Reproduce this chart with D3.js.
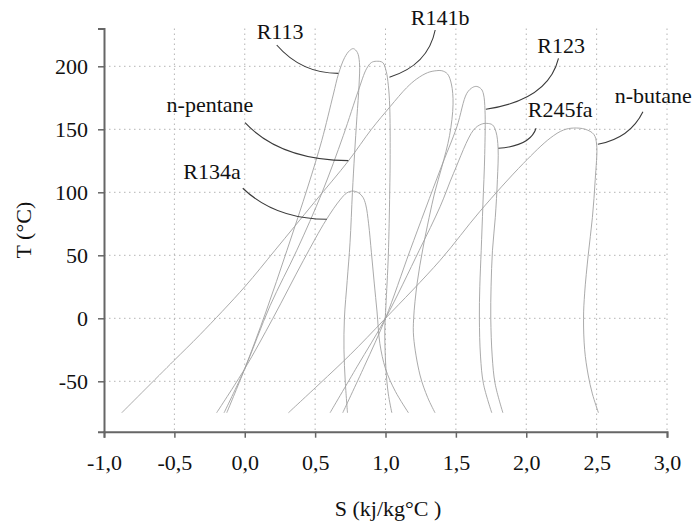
<!DOCTYPE html>
<html>
<head>
<meta charset="utf-8">
<script src="https://cdn.jsdelivr.net/npm/d3@7/dist/d3.min.js"></script>
<style>
  body { margin: 0; background: #fff; }
  svg text { font-family: "Liberation Serif", "Times New Roman", Times, "DejaVu Serif", serif !important; fill: #111; }
</style>
</head>
<body>
<div id="chart"></div>
<script>
// saturation domes, [S, T]; liquid side from bottom to top, vapour side from top to bottom
let r113_liq = [[-0.128,-75],[0,-40],[0.15,5],[0.30,54],[0.45,105],[0.547,141],[0.63,178],[0.666,194],[0.71,207],[0.745,212.5],[0.772,214]];
let r113_vap = [[0.80,211],[0.815,203],[0.812,185],[0.797,160],[0.78,130],[0.765,100],[0.748,60],[0.728,30],[0.708,0],[0.705,-25],[0.714,-50],[0.73,-75]];

let r141b_liq = [[-0.147,-75],[0,-40],[0.18,10],[0.37,54],[0.55,100],[0.70,145],[0.808,181],[0.865,198],[0.90,203],[0.935,204]];
let r141b_vap = [[0.98,203],[1.005,196],[1.02,185],[1.03,168],[1.033,130],[1.03,100],[1.02,50],[1.003,10],[0.995,-10],[1.003,-40],[1.02,-60],[1.045,-75]];

let r134a_liq = [[-0.2,-75],[0,-40],[0.2,0],[0.417,46],[0.578,78],[0.677,94],[0.725,99.5],[0.767,101]];
let r134a_vap = [[0.81,99.5],[0.84,96],[0.86,90],[0.88,75],[0.90,52],[0.92,28],[0.94,5],[0.96,-20],[1.0,-40],[1.07,-58],[1.163,-75]];

let pentane_liq = [[-0.874,-75],[-0.507,-34],[-0.318,-13],[0.0,25],[0.215,54],[0.494,92],[0.737,125],[0.9,150],[1.033,168],[1.15,183],[1.222,190],[1.30,195],[1.36,196.5],[1.40,196.5]];
let pentane_vap = [[1.44,194],[1.468,186],[1.48,170],[1.455,145],[1.40,120],[1.35,100],[1.31,80],[1.265,55],[1.225,28],[1.20,0],[1.20,-15],[1.245,-45],[1.30,-63],[1.352,-75]];

let r123_liq = [[0.696,-75],[0.85,-38],[1.0,0],[1.175,54],[1.388,117.7],[1.507,152],[1.578,178.6],[1.62,183.3],[1.649,184]];
let r123_vap = [[1.68,182],[1.696,178],[1.707,165],[1.705,130],[1.692,90],[1.68,54],[1.67,25],[1.667,0],[1.675,-30],[1.696,-52],[1.755,-75]];

let r245fa_liq = [[0.606,-75],[0.80,-38],[1.0,0],[1.24,54],[1.388,88.6],[1.483,115],[1.625,149.4],[1.68,154],[1.72,154.7]];
let r245fa_vap = [[1.76,153.5],[1.785,148],[1.80,135],[1.795,110],[1.78,80],[1.76,54],[1.75,25],[1.748,0],[1.758,-30],[1.779,-52],[1.834,-75]];

let butane_liq = [[0.31,-75],[0.535,-51.6],[0.748,-29],[1.0,0],[1.388,46],[1.672,85],[1.98,123],[2.17,143],[2.264,149.4],[2.336,151]];
let butane_vap = [[2.42,150],[2.48,146],[2.50,138],[2.49,110],[2.47,80],[2.44,50],[2.415,20],[2.407,0],[2.415,-25],[2.44,-45],[2.47,-60],[2.513,-75]];

let fluids = ["R113", "R141b", "R134a", "n-pentane", "R123", "R245fa", "n-butane"];
let domes = [
    r113_liq.concat(r113_vap),
    r141b_liq.concat(r141b_vap),
    r134a_liq.concat(r134a_vap),
    pentane_liq.concat(pentane_vap),
    r123_liq.concat(r123_vap),
    r245fa_liq.concat(r245fa_vap),
    butane_liq.concat(butane_vap)
];

// labels: text anchor [S, T], leader start, control, end [S, T]
let label_pos   = [[0.251,221.4],[1.388,232.8],[-0.232,110.6],[-0.247,164.0],[2.248,210.3],[2.241,160.0],[2.902,171.1]];
let leader_from = [[0.227,216.9],[1.353,228.8],[-0.014,103.2],[0.002,155.2],[2.229,206.3],[2.070,150.8],[2.829,164.0]];
let leader_ctrl = [[0.402,194.4],[1.303,201.0],[0.215,78.8],[0.251,125.6],[2.156,173.3],[2.028,136.7],[2.738,143.1]];
let leader_to   = [[0.665,194.4],[1.028,191.3],[0.583,78.6],[0.736,125.1],[1.713,165.9],[1.802,134.9],[2.509,138.1]];

let x_ticks = [-1, -0.5, 0, 0.5, 1, 1.5, 2, 2.5, 3];
let y_ticks = [-50, 0, 50, 100, 150, 200];

let width = 694, height = 524;
let serif = "'Liberation Serif', 'Times New Roman', Times, 'DejaVu Serif', serif";

let svg = d3.select("#chart").append("svg")
    .attr("width", width)
    .attr("height", height);

let x = d3.scaleLinear().domain([-1, 3]).range([104, 667]);
let y = d3.scaleLinear().domain([-90, 230]).range([431.7, 28.5]);

// dotted grid
svg.append("g").selectAll("line.vg")
    .data(x_ticks.slice(1))
    .enter().append("line")
    .attr("x1", d => x(d)).attr("x2", d => x(d))
    .attr("y1", y(230)).attr("y2", y(-90))
    .attr("stroke", "#b4b4b4")
    .attr("stroke-width", 1)
    .attr("stroke-dasharray", "1.5,3.5");

svg.append("g").selectAll("line.hg")
    .data(y_ticks)
    .enter().append("line")
    .attr("x1", x(-1)).attr("x2", x(3))
    .attr("y1", d => y(d)).attr("y2", d => y(d))
    .attr("stroke", "#b4b4b4")
    .attr("stroke-width", 1)
    .attr("stroke-dasharray", "1.5,3.5");

// domes
let line = d3.line()
    .x(d => x(d[0]))
    .y(d => y(d[1]))
    .curve(d3.curveCatmullRom.alpha(0.5));

svg.append("g").selectAll("path")
    .data(domes)
    .enter().append("path")
    .attr("d", line)
    .attr("fill", "none")
    .attr("stroke", "#a0a0a0")
    .attr("stroke-width", 0.9);

// leader lines
svg.append("g").selectAll("path")
    .data(fluids)
    .enter().append("path")
    .attr("d", (d, i) => {
        let a = leader_from[i], c = leader_ctrl[i], b = leader_to[i];
        return "M" + x(a[0]) + "," + y(a[1]) +
            "Q" + x(c[0]) + "," + y(c[1]) + " " + x(b[0]) + "," + y(b[1]);
    })
    .attr("fill", "none")
    .attr("stroke", "#3a3a3a")
    .attr("stroke-width", 1.1);

svg.append("g").selectAll("text")
    .data(fluids)
    .enter().append("text")
    .attr("x", (d, i) => x(label_pos[i][0]))
    .attr("y", (d, i) => y(label_pos[i][1]))
    .attr("text-anchor", "middle")
    .style("font-family", serif)
    .style("font-size", "22px")
    .text(d => d);

// axes
let xAxis = svg.append("g")
    .attr("transform", "translate(0," + y(-90) + ")")
    .call(d3.axisBottom(x).tickValues(x_ticks).tickSizeOuter(0).tickSize(6).tickPadding(17)
        .tickFormat(d => d.toFixed(1).replace(".", ",")));

let yAxis = svg.append("g")
    .attr("transform", "translate(" + x(-1) + ",0)")
    .call(d3.axisLeft(y).tickValues(y_ticks).tickSizeOuter(0).tickSize(6).tickPadding(10)
        .tickFormat(d => String(d)));

[xAxis, yAxis].forEach(function (g) {
    g.attr("font-family", null).attr("font-size", null);
    g.select(".domain").attr("stroke", "#666").attr("stroke-width", 2);
    g.selectAll(".tick line").attr("stroke", "#666").attr("stroke-width", 1.5);
    g.selectAll(".tick text")
        .style("font-family", serif)
        .style("font-size", "22px")
        .attr("fill", "#111");
});

// axis titles
svg.append("text")
    .attr("x", 388)
    .attr("y", 516)
    .attr("text-anchor", "middle")
    .style("font-family", serif)
    .style("font-size", "22px")
    .text("S (kj/kg°C )");

svg.append("text")
    .attr("transform", "translate(31," + y(70) + ") rotate(-90)")
    .attr("text-anchor", "middle")
    .style("font-family", serif)
    .style("font-size", "22px")
    .text("T (°C)");
</script>
</body>
</html>
